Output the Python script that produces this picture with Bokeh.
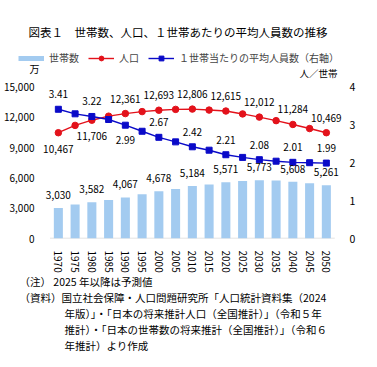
from bokeh.plotting import figure
from bokeh.layouts import column
from bokeh.models import (Range1d, LinearAxis, NumeralTickFormatter, FixedTicker,
                          Label, Legend, LegendItem, ColumnDataSource)
from bokeh.core.properties import value
from bokeh.embed import file_html
from bokeh.resources import INLINE

years = ["1970", "1975", "1980", "1985", "1990", "1995", "2000", "2005", "2010",
         "2015", "2020", "2025", "2030", "2035", "2040", "2045", "2050"]
households = [3030, 3360, 3582, 3798, 4067, 4390, 4678, 4906, 5184,
              5333, 5571, 5695, 5773, 5749, 5608, 5456, 5261]
population = [10467, 11194, 11706, 12105, 12361, 12557, 12693, 12777, 12806,
              12709, 12615, 12326, 12012, 11664, 11284, 10880, 10469]
avg_size = [3.41, 3.29, 3.22, 3.14, 2.99, 2.83, 2.67, 2.55, 2.42,
            2.33, 2.21, 2.14, 2.08, 2.04, 2.01, 2.00, 1.99]
left_ticks = [0, 3000, 6000, 9000, 12000, 15000]
right_ticks = [0, 1, 2, 3, 4]

title_text = "図表１　世帯数、人口、１世帯あたりの平均人員数の推移"
legend_names = ["世帯数", "人口", "１世帯当たりの平均人員数（右軸）"]
left_unit = "万"
right_unit = "人／世帯"
notes = [
    "（注） 2025 年以降は予測値",
    "（資料）国立社会保障・人口問題研究所「人口統計資料集（2024",
    "年版）」・「日本の将来推計人口（全国推計）」（令和５年",
    "推計）・「日本の世帯数の将来推計（全国推計）」（令和６",
    "年推計）より作成",
]

FONT = "Noto Sans CJK JP"
BAR = "#A3CBF0"
RED = "#E3121B"
BLUE = "#0A0AC8"

# layout geometry (pixels)
W, H1, H2 = 377, 275, 92
B_LEFT, B_RIGHT, B_TOP, B_BOTTOM = 10, 34, 16, 32
FRAME_H = H1 - B_TOP - B_BOTTOM
VALUE_H = 155          # pixel height used by the value scale (0..15000 / 0..4)
PX_PER_CAT = 16.8
FIRST_CAT_PX = 47      # from frame left to first category centre
frame_w = W - B_LEFT - B_RIGHT
n = len(years)
x_start = -FIRST_CAT_PX / PX_PER_CAT
x_end = x_start + frame_w / PX_PER_CAT
xs = list(range(n))

p = figure(width=W, height=H1, output_backend="svg", toolbar_location=None,
           x_range=Range1d(x_start, x_end),
           y_range=Range1d(0, left_ticks[-1] * FRAME_H / VALUE_H),
           min_border_left=B_LEFT, min_border_right=B_RIGHT,
           min_border_top=B_TOP, min_border_bottom=B_BOTTOM)
p.outline_line_color = None
p.grid.visible = False
p.extra_y_ranges = {"avg": Range1d(0, right_ticks[-1] * FRAME_H / VALUE_H)}

ya = p.yaxis[0]
ya.ticker = FixedTicker(ticks=left_ticks)
ya.formatter = NumeralTickFormatter(format="0,0")
ya.axis_line_color = None
ya.major_tick_line_color = None
ya.minor_tick_line_color = None
ya.major_label_standoff = -29
ya.major_label_text_font = FONT
ya.major_label_text_font_size = "10px"
ya.major_label_text_color = "#000000"

rax = LinearAxis(y_range_name="avg", ticker=FixedTicker(ticks=right_ticks))
rax.axis_line_color = None
rax.major_tick_line_color = None
rax.minor_tick_line_color = None
rax.major_label_standoff = 0
rax.major_label_text_font = FONT
rax.major_label_text_font_size = "10.5px"
rax.major_label_text_color = "#000000"
p.add_layout(rax, "right")

xa = p.xaxis[0]
xa.ticker = FixedTicker(ticks=xs)
xa.major_label_overrides = {i: y for i, y in enumerate(years)}
xa.axis_line_color = None
xa.major_tick_line_color = None
xa.minor_tick_line_color = None
xa.major_label_orientation = "vertical"
xa.major_label_standoff = 6
xa.major_label_text_font = FONT
xa.major_label_text_font_size = "10px"
xa.major_label_text_color = "#000000"

# category baseline
p.segment(x0=[xs[0] - 0.5], x1=[xs[-1] + 0.5], y0=[0], y1=[0],
          line_color="#D9D9D9", line_width=1.5)

src = ColumnDataSource(dict(x=xs, hh=households, pop=population, avg=avg_size))
p.vbar(x="x", top="hh", width=0.54, source=src, fill_color=BAR, line_color=None)
pl = p.line(x="x", y="pop", source=src, line_color=RED, line_width=1.4)
ps = p.scatter(x="x", y="pop", source=src, marker="circle", size=6.5,
               fill_color=RED, line_color=RED)
bl = p.line(x="x", y="avg", source=src, line_color=BLUE, line_width=1.4,
            y_range_name="avg")
bs = p.scatter(x="x", y="avg", source=src, marker="square", size=6,
               fill_color=BLUE, line_color=BLUE, y_range_name="avg")

# data labels on every other year
idx = list(range(0, n, 2))
lab_x = [xs[i] for i in idx]
hh_lab = ColumnDataSource(dict(x=lab_x, y=[households[i] for i in idx],
                               t=[f"{households[i]:,}" for i in idx]))
pop_lab = ColumnDataSource(dict(x=lab_x, y=[population[i] for i in idx],
                                t=[f"{population[i]:,}" for i in idx],
                                off=[16 if years[i] in ("1970", "1980") else -15 for i in idx]))
avg_lab = ColumnDataSource(dict(x=lab_x, y=[avg_size[i] for i in idx],
                                t=[f"{avg_size[i]:.2f}" for i in idx],
                                off=[15 if years[i] == "1990" else -15 for i in idx]))
common = dict(text="t", text_align="center", text_baseline="middle",
              text_font=value(FONT), text_font_size="10px", text_color="#000000")
p.text(x="x", y="y", source=hh_lab, y_offset=-13, **common)
p.text(x="x", y="y", source=pop_lab, y_offset="off", **common)
p.text(x="x", y="y", source=avg_lab, y_offset="off", y_range_name="avg", **common)

# legend (bar entry shown as a thick band)
nan = float("nan")
dummy_bar = p.line(x=[nan], y=[nan], line_color=BAR, line_width=5, line_cap="butt")
legend = Legend(items=[LegendItem(label=legend_names[0], renderers=[dummy_bar]),
                       LegendItem(label=legend_names[1], renderers=[pl, ps]),
                       LegendItem(label=legend_names[2], renderers=[bl, bs])],
                orientation="horizontal", location=(7, 173),
                padding=0, margin=0, spacing=9, label_standoff=5,
                glyph_width=26, glyph_height=12, label_height=12,
                label_text_font=FONT, label_text_font_size="10px",
                border_line_color=None, background_fill_alpha=0)
p.add_layout(legend, "center")

def add_text(fig, txt, x, y, size, align="left"):
    fig.add_layout(Label(x=x, y=y, x_units="screen", y_units="screen", text=txt,
                         text_font=FONT, text_font_size=size, text_align=align,
                         text_baseline="middle", text_color="#000000"))

add_text(p, title_text, 17, 207, "11.5px")
add_text(p, left_unit, 23, 170, "10px", "center")
add_text(p, right_unit, 326, 166, "9.5px", "right")

# footnotes in a second, axis-less figure
q = figure(width=W, height=H2, output_backend="svg", toolbar_location=None,
           x_range=Range1d(0, 1), y_range=Range1d(0, 1),
           x_axis_type=None, y_axis_type=None,
           min_border_left=0, min_border_right=0, min_border_top=0, min_border_bottom=0)
q.outline_line_color = None
q.grid.visible = False
note_x = [8, 8, 53, 53, 53]
note_y = [86, 70, 54, 38, 22]
for t, nx, ny in zip(notes, note_x, note_y):
    add_text(q, t, nx, ny, "10.5px")

layout = column(p, q, spacing=0)
open("out.html", "w").write(file_html(layout, INLINE))
